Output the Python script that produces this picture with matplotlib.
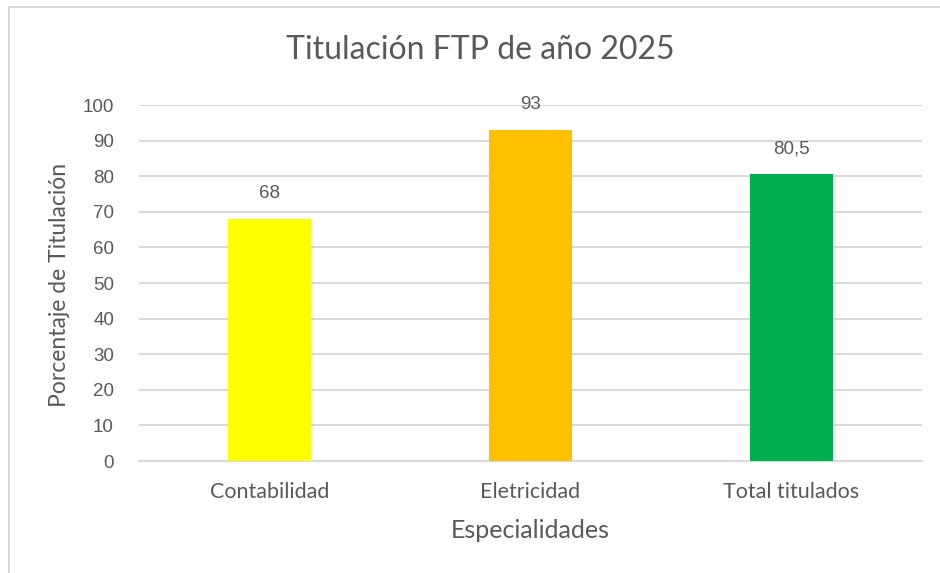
import matplotlib.pyplot as plt
from matplotlib.patches import Rectangle

# datos
especialidades = ["Contabilidad", "Eletricidad", "Total titulados"]
porcentajes = [68, 93, 80.5]
etiquetas = ["68", "93", "80,5"]
colores = ["#FFFF00", "#FFC000", "#00B050"]

GRIS = "#595959"
GRID = "#D9D9D9"

fig = plt.figure(figsize=(9.4, 5.73), dpi=100)
ax = fig.add_axes([139 / 940, 1 - 461 / 573, 783 / 940, 356 / 573])

# marco del gráfico (solo se ve izquierda y arriba)
fig.patches.append(Rectangle((9 / 940, -0.1), 1.2, 1 - 7 / 573 + 0.1,
                             transform=fig.transFigure, fill=False,
                             edgecolor=GRID, linewidth=1.5))

x = range(len(especialidades))
bars = ax.bar(x, porcentajes, width=0.32, color=colores, zorder=3)

ax.set_xlim(-0.5, 2.5)
ax.set_ylim(0, 100)
ax.set_yticks(range(0, 101, 10))
ax.set_yticklabels([str(v) for v in range(0, 101, 10)],
                   fontsize=13.5, color=GRIS, family="Liberation Sans")
ax.set_xticks(list(x))
ax.set_xticklabels(especialidades, fontsize=15.5, color=GRIS, family="Lato")
ax.tick_params(length=0)
ax.tick_params(axis="y", pad=18)
ax.tick_params(axis="x", pad=15)
ax.grid(axis="y", color=GRID, linewidth=1.5, zorder=0)

for s in ["top", "right", "left"]:
    ax.spines[s].set_visible(False)
ax.spines["bottom"].set_color(GRID)
ax.spines["bottom"].set_linewidth(1.5)

# etiquetas de datos
for b, txt in zip(bars, etiquetas):
    ax.annotate(txt, (b.get_x() + b.get_width() / 2, b.get_height()),
                xytext=(0, 12), textcoords="offset points",
                ha="center", va="bottom", fontsize=13.5, color=GRIS,
                family="Liberation Sans")

fig.text(480 / 940, 1 - 50 / 573, "Titulación FTP de año 2025",
         ha="center", va="center", fontsize=23, color=GRIS, family="Lato")
fig.text(60 / 940, 1 - 285 / 573, "Porcentaje de Titulación",
         ha="center", va="center", rotation=90, fontsize=16.5, color=GRIS,
         family="Lato")
fig.text(530 / 940, 1 - 531 / 573, "Especialidades",
         ha="center", va="center", fontsize=18, color=GRIS, family="Lato")

fig.savefig("out.png", dpi=100)
